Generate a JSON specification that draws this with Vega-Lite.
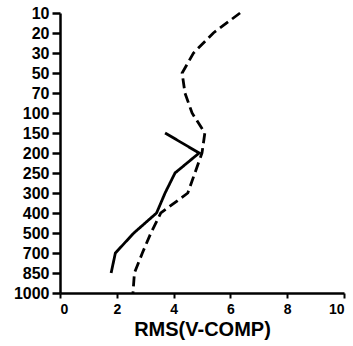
{
  "$schema": "https://vega.github.io/schema/vega-lite/v6.json",
  "width": 284,
  "height": 280,
  "autosize": {"type": "none"},
  "padding": {"left": 60, "top": 13, "right": 9, "bottom": 53},
  "background": "white",
  "config": {"view": {"stroke": null}},
  "data": {
    "values": [
      {"series": "dashed", "p": "10", "rms": 6.34},
      {"series": "dashed", "p": "20", "rms": 5.4},
      {"series": "dashed", "p": "30", "rms": 4.7},
      {"series": "dashed", "p": "50", "rms": 4.3},
      {"series": "dashed", "p": "70", "rms": 4.4},
      {"series": "dashed", "p": "100", "rms": 4.65},
      {"series": "dashed", "p": "150", "rms": 5.1},
      {"series": "dashed", "p": "200", "rms": 5.0},
      {"series": "dashed", "p": "250", "rms": 4.75},
      {"series": "dashed", "p": "300", "rms": 4.5},
      {"series": "dashed", "p": "400", "rms": 3.55},
      {"series": "dashed", "p": "500", "rms": 3.2},
      {"series": "dashed", "p": "700", "rms": 2.9},
      {"series": "dashed", "p": "850", "rms": 2.62},
      {"series": "dashed", "p": "1000", "rms": 2.57},
      {"series": "solid", "p": "150", "rms": 3.7},
      {"series": "solid", "p": "200", "rms": 4.9},
      {"series": "solid", "p": "250", "rms": 4.05},
      {"series": "solid", "p": "300", "rms": 3.7},
      {"series": "solid", "p": "400", "rms": 3.4},
      {"series": "solid", "p": "500", "rms": 2.6},
      {"series": "solid", "p": "700", "rms": 1.95},
      {"series": "solid", "p": "850", "rms": 1.8}
    ]
  },
  "mark": {"type": "line", "color": "black", "strokeWidth": 2.8},
  "encoding": {
    "x": {
      "field": "rms",
      "type": "quantitative",
      "title": "RMS(V-COMP)",
      "scale": {"domain": [0, 10], "nice": false, "zero": true},
      "axis": {
        "values": [0, 2, 4, 6, 8, 10],
        "grid": false,
        "domainColor": "black",
        "domainWidth": 2.5,
        "tickColor": "black",
        "tickWidth": 2,
        "tickSize": 5,
        "labelFont": "Liberation Sans",
        "labelFontWeight": "bold",
        "labelFontSize": 14,
        "labelColor": "black",
        "labelPadding": 4,
        "titleFont": "Liberation Sans",
        "titleFontWeight": "bold",
        "titleFontSize": 20,
        "titleColor": "black",
        "titlePadding": 3
      }
    },
    "y": {
      "field": "p",
      "type": "ordinal",
      "title": null,
      "scale": {
        "type": "point",
        "padding": 0,
        "domain": ["10", "20", "30", "50", "70", "100", "150", "200", "250", "300", "400", "500", "700", "850", "1000"]
      },
      "axis": {
        "domainColor": "black",
        "domainWidth": 2.5,
        "tickColor": "black",
        "tickWidth": 2.5,
        "tickSize": 8,
        "labelFont": "Liberation Sans",
        "labelFontWeight": "bold",
        "labelFontSize": 16,
        "labelColor": "black",
        "labelPadding": 3
      }
    },
    "detail": {"field": "series"},
    "strokeDash": {
      "field": "series",
      "type": "nominal",
      "scale": {"domain": ["dashed", "solid"], "range": [[10, 5], [1, 0]]},
      "legend": null
    },
    "order": {"value": null}
  }
}
